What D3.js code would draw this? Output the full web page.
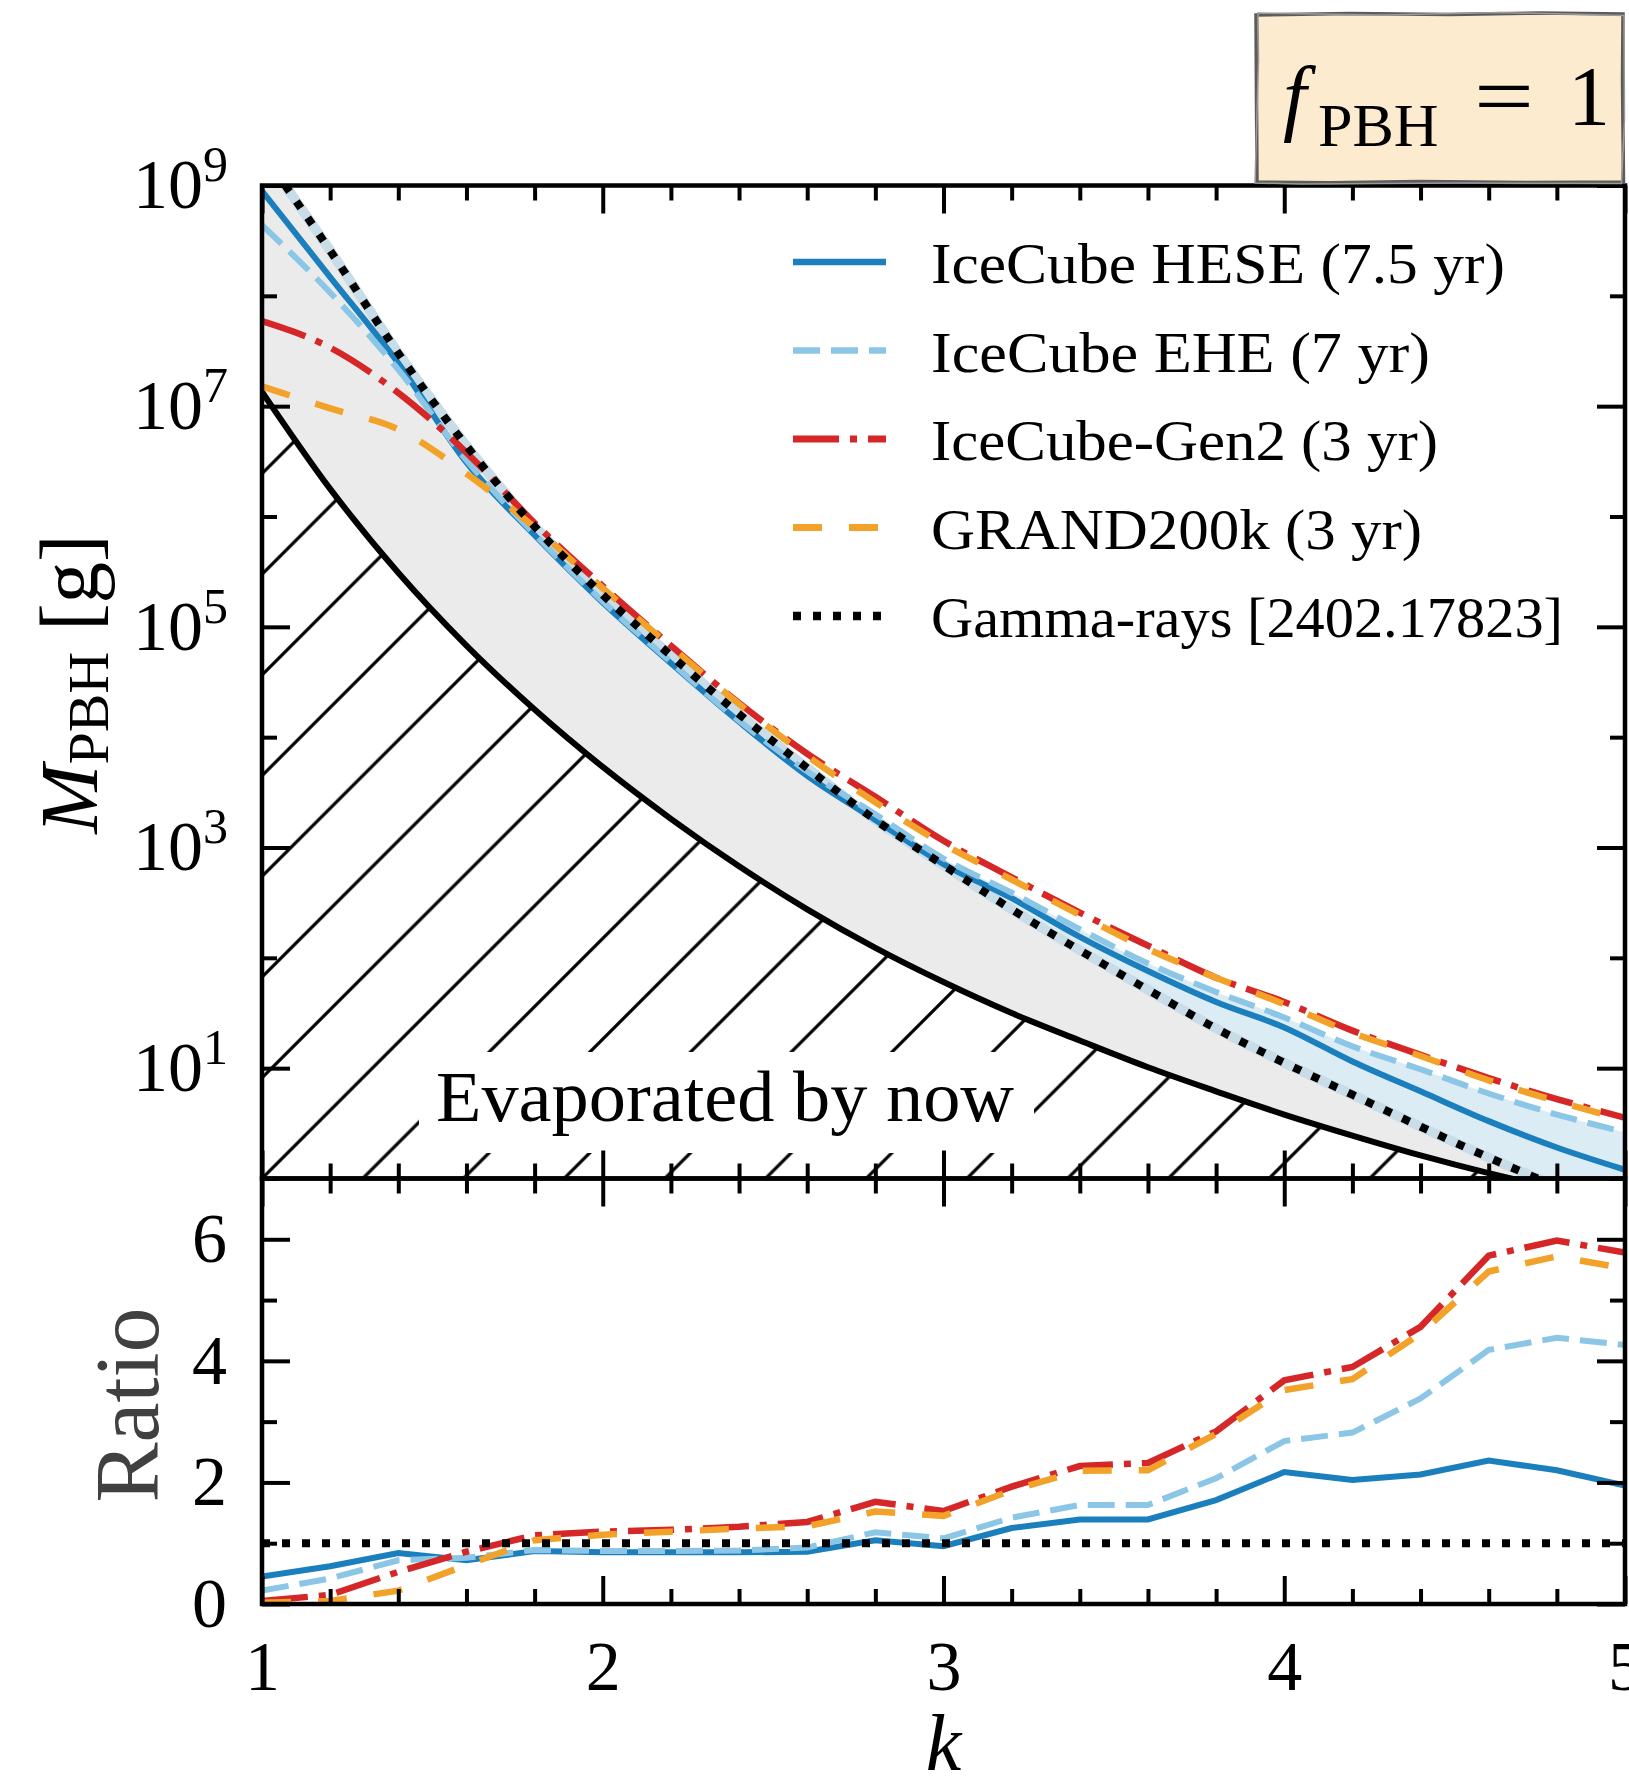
<!DOCTYPE html>
<html><head><meta charset="utf-8">
<script src="https://cdn.jsdelivr.net/npm/d3@7"></script>
<style>
html,body{margin:0;padding:0;background:#fff;}
svg{display:block;font-family:"Liberation Serif","Times New Roman",serif;}
</style></head><body>
<svg id="chart" width="1629" height="1784"></svg>
<script>
// ---------------- data ----------------
const kValues = [1.0,1.2,1.4,1.6,1.8,2.0,2.2,2.4,2.6,2.8,3.0,3.2,3.4,3.6,3.8,4.0,4.2,4.4,4.6,4.8,5.0];
const massEvaporated = [1.35e7,1.78e6,3.09e5,6.76e4,1.78e4,5.37e3,1.82e3,676,275,123,60.3,31.6,17.8,10.2,6.17,3.80,2.45,1.62,1.12,0.81,0.62];
const massGamma = [2.0e9,2.57e8,3.02e7,4.37e6,8.13e5,1.95e5,5.50e4,1.62e4,5.25e3,1.78e3,692,275,117,51.3,22.9,11.2,5.75,2.95,1.55,0.85,0.50];
const massHESE  = [8.91e8,1.48e8,2.45e7,3.09e6,6.76e5,1.66e5,4.68e4,1.38e4,4.47e3,1.78e3,708,347,155,75.9,39.8,23.4,11.5,6.17,3.31,1.91,1.20];
const massEHE   = [4.37e8,1.07e8,2.14e7,3.24e6,6.92e5,1.70e5,4.79e4,1.41e4,4.90e3,2.00e3,794,389,182,89.1,49.0,28.8,15.8,9.77,5.89,3.80,2.63];
const massGen2  = [5.89e7,3.39e7,1.32e7,3.80e6,8.71e5,2.34e5,6.76e4,2.04e4,7.08e3,2.88e3,1.15e3,537,257,129,66.1,39.8,21.9,13.2,8.13,5.25,3.55];
const massGRAND = [1.51e7,9.55e6,6.17e6,2.45e6,7.94e5,2.24e5,6.61e4,2.00e4,6.76e3,2.57e3,1.07e3,513,245,120,66.1,38.0,20.9,12.9,7.76,5.01,3.39];
const ratioHESE  = [0.45,0.62,0.84,0.72,0.87,0.85,0.85,0.85,0.86,1.05,0.95,1.25,1.39,1.39,1.71,2.17,2.04,2.13,2.36,2.20,1.95];
const ratioEHE   = [0.22,0.42,0.72,0.76,0.89,0.87,0.87,0.88,0.93,1.18,1.08,1.42,1.63,1.63,2.07,2.68,2.82,3.38,4.18,4.38,4.26];
const ratioGen2  = [0.05,0.15,0.53,0.86,1.13,1.19,1.22,1.27,1.35,1.68,1.53,1.93,2.27,2.32,2.84,3.68,3.90,4.56,5.73,5.98,5.78];
const ratioGRAND = [0.02,0.05,0.22,0.64,1.05,1.14,1.19,1.24,1.28,1.52,1.45,1.87,2.19,2.20,2.80,3.52,3.70,4.45,5.47,5.72,5.52];
const ratioGamma = [1,1,1,1,1,1,1,1,1,1,1,1,1,1,1,1,1,1,1,1,1];
const seriesNames = ["IceCube HESE (7.5 yr)","IceCube EHE (7 yr)","IceCube-Gen2 (3 yr)","GRAND200k (3 yr)","Gamma-rays [2402.17823]"];
const xMajorTicks = [1,2,3,4,5];
const xMinorTicks = [1.2,1.4,1.6,1.8,2.2,2.4,2.6,2.8,3.2,3.4,3.6,3.8,4.2,4.4,4.6,4.8];
const yMainMajorTicks = [1e1,1e3,1e5,1e7,1e9];
const yMainTickExponents = ["1","3","5","7","9"];
const yMainMinorTicks = [1e0,1e2,1e4,1e6,1e8];
const yRatioMajorTicks = [0,2,4,6];
const yRatioMinorTicks = [1,3,5];

// ---------------- layout ----------------
const L = 262, R = 1625, T = 185.5, MB = 1178.5, RB = 1604;
const FONT = '"Liberation Serif","Times New Roman",serif';
const svg = d3.select("#chart");
const x  = d3.scaleLinear().domain([1,5]).range([L,R]);
const yM = d3.scaleLog().domain([1,1e9]).range([MB,T]);
const yR = d3.scaleLinear().domain([0,7]).range([RB,MB]);

const defs = svg.append("defs");
defs.append("clipPath").attr("id","clipMain").append("rect")
  .attr("x",L).attr("y",T).attr("width",R-L).attr("height",MB-T);
defs.append("clipPath").attr("id","clipRatio").append("rect")
  .attr("x",L).attr("y",MB).attr("width",R-L).attr("height",RB-MB);

const curve = d3.curveMonotoneX;
const upperIce = kValues.map((k,i)=>Math.max(massHESE[i], massEHE[i]));
const areaBetween = (lo, hi) => d3.area()
  .x((d,i)=>x(kValues[i])).y0((d,i)=>yM(lo[i])).y1((d,i)=>yM(hi[i])).curve(curve)(kValues);

// hatch clip: below evaporation line
defs.append("clipPath").attr("id","clipHatch").append("path")
  .attr("d", d3.area().x((d,i)=>x(kValues[i])).y0(MB+60).y1((d,i)=>yM(massEvaporated[i])).curve(curve)(kValues));
const hs = 100.7;
const pat = defs.append("pattern").attr("id","hatch").attr("patternUnits","userSpaceOnUse")
  .attr("x",L).attr("y",MB).attr("width",hs).attr("height",hs);
pat.append("path")
  .attr("d",`M0,${hs} L${hs},0 M${-hs*0.1},${hs*0.1} L${hs*0.1},${-hs*0.1} M${hs*0.9},${hs*1.1} L${hs*1.1},${hs*0.9}`)
  .attr("stroke","#000").attr("stroke-width",3.2).attr("fill","none");

// ---------------- main panel ----------------
const gMain = svg.append("g").attr("clip-path","url(#clipMain)");
gMain.append("path").attr("d", areaBetween(massEvaporated, upperIce)).attr("fill","#dcecf4");
gMain.append("path").attr("d", areaBetween(massEvaporated, massGamma)).attr("fill","#ebebeb");
gMain.append("g").attr("clip-path","url(#clipHatch)")
  .append("rect").attr("x",L).attr("y",T).attr("width",R-L).attr("height",MB-T).attr("fill","url(#hatch)");
// text box
gMain.append("rect").attr("x",419).attr("y",1052).attr("width",615).attr("height",101).attr("fill","#fff");
svg.append("text").attr("x",436).attr("y",1121).attr("font-size",72).attr("textLength",578)
  .attr("lengthAdjust","spacingAndGlyphs").text("Evaporated by now");

const lineMain = arr => d3.line().x((d,i)=>x(kValues[i])).y((d,i)=>yM(arr[i])).curve(curve)(kValues);
gMain.append("path").attr("d", lineMain(massEvaporated)).attr("fill","none").attr("stroke","#000").attr("stroke-width",6);
gMain.append("path").attr("d", lineMain(massGamma)).attr("fill","none").attr("stroke","#c9dde8").attr("stroke-width",10);

const styles = [
  {color:"#1b7fbd", w:6, dash:null},
  {color:"#8cc6e6", w:6, dash:"27,11"},
  {color:"#d62728", w:6.5, dash:"46,11,7,11"},
  {color:"#f2a229", w:6.5, dash:"29,27"},
  {color:"#000000", w:8, dash:"8,12"}
];
const mainSeries = [massHESE, massEHE, massGen2, massGRAND, massGamma];
mainSeries.forEach((arr,j)=>{
  gMain.append("path").attr("d", lineMain(arr)).attr("fill","none")
    .attr("stroke",styles[j].color).attr("stroke-width",styles[j].w)
    .attr("stroke-dasharray",styles[j].dash);
});

// ---------------- ratio panel ----------------
const gRatio = svg.append("g").attr("clip-path","url(#clipRatio)");
const lineRatio = arr => d3.line().x((d,i)=>x(kValues[i])).y((d,i)=>yR(arr[i]))(kValues);
const ratioSeries = [ratioHESE, ratioEHE, ratioGen2, ratioGRAND, ratioGamma];
ratioSeries.forEach((arr,j)=>{
  gRatio.append("path").attr("d", lineRatio(arr)).attr("fill","none")
    .attr("stroke",styles[j].color).attr("stroke-width",styles[j].w)
    .attr("stroke-dasharray",styles[j].dash);
});

// ---------------- axes ----------------
function styleAxis(g){
  g.select(".domain").remove();
  g.selectAll(".tick line").attr("stroke","#000").attr("stroke-width",4);
  g.selectAll("text").attr("font-family",FONT).attr("fill","#000");
}
const MAJ = 28, MIN = 15;
const gYL = svg.append("g").attr("transform",`translate(${L},0)`)
  .call(d3.axisLeft(yM).tickValues(yMainMajorTicks).tickSize(-MAJ).tickPadding(34).tickFormat(()=>""));
styleAxis(gYL);
gYL.selectAll(".tick text").each(function(d,i){
  const t = d3.select(this).attr("font-size",70).attr("dy","0.32em");
  t.append("tspan").text("10");
  t.append("tspan").attr("font-size",50).attr("dy",-27).text(yMainTickExponents[i]);
});
styleAxis(svg.append("g").attr("transform",`translate(${L},0)`)
  .call(d3.axisLeft(yM).tickValues(yMainMinorTicks).tickSize(-MIN).tickFormat(()=>"")));
styleAxis(svg.append("g").attr("transform",`translate(${R},0)`)
  .call(d3.axisRight(yM).tickValues(yMainMajorTicks).tickSize(-MAJ).tickFormat(()=>"")));
styleAxis(svg.append("g").attr("transform",`translate(${R},0)`)
  .call(d3.axisRight(yM).tickValues(yMainMinorTicks).tickSize(-MIN).tickFormat(()=>"")));
[[d3.axisTop, T],[d3.axisBottom, MB],[d3.axisTop, MB]].forEach(([ax,yy])=>{
  styleAxis(svg.append("g").attr("transform",`translate(0,${yy})`)
    .call(ax(x).tickValues(xMajorTicks).tickSize(-MAJ).tickFormat(()=>"")));
  styleAxis(svg.append("g").attr("transform",`translate(0,${yy})`)
    .call(ax(x).tickValues(xMinorTicks).tickSize(-MIN).tickFormat(()=>"")));
});
const gXB = svg.append("g").attr("transform",`translate(0,${RB})`)
  .call(d3.axisBottom(x).tickValues(xMajorTicks).tickSize(-MAJ).tickPadding(36).tickFormat(d3.format("d")));
styleAxis(gXB); gXB.selectAll("text").attr("font-size",70);
styleAxis(svg.append("g").attr("transform",`translate(0,${RB})`)
  .call(d3.axisBottom(x).tickValues(xMinorTicks).tickSize(-MIN).tickFormat(()=>"")));
const gRL = svg.append("g").attr("transform",`translate(${L},0)`)
  .call(d3.axisLeft(yR).tickValues(yRatioMajorTicks).tickSize(-MAJ).tickPadding(35).tickFormat(d3.format("d")));
styleAxis(gRL); gRL.selectAll("text").attr("font-size",70);
styleAxis(svg.append("g").attr("transform",`translate(${L},0)`)
  .call(d3.axisLeft(yR).tickValues(yRatioMinorTicks).tickSize(-MIN).tickFormat(()=>"")));
styleAxis(svg.append("g").attr("transform",`translate(${R},0)`)
  .call(d3.axisRight(yR).tickValues(yRatioMajorTicks).tickSize(-MAJ).tickFormat(()=>"")));
styleAxis(svg.append("g").attr("transform",`translate(${R},0)`)
  .call(d3.axisRight(yR).tickValues(yRatioMinorTicks).tickSize(-MIN).tickFormat(()=>"")));

// frames
svg.append("rect").attr("x",L).attr("y",T).attr("width",R-L).attr("height",MB-T)
  .attr("fill","none").attr("stroke","#000").attr("stroke-width",4.5);
svg.append("rect").attr("x",L).attr("y",MB).attr("width",R-L).attr("height",RB-MB)
  .attr("fill","none").attr("stroke","#000").attr("stroke-width",4.5);

// ---------------- axis labels ----------------
const ml = svg.append("text").attr("transform","translate(97,684) rotate(-90)")
  .attr("text-anchor","middle").attr("font-size",83);
ml.append("tspan").attr("font-style","italic").text("M");
ml.append("tspan").attr("font-size",58).attr("dy",11).text("PBH");
ml.append("tspan").attr("dy",-11).text("\u00a0[g]");
svg.append("text").attr("transform","translate(158,1405) rotate(-90)")
  .attr("text-anchor","middle").attr("font-size",90).attr("fill","#404040").text("Ratio");
svg.append("text").attr("x",x(3)).attr("y",1770).attr("text-anchor","middle")
  .attr("font-size",80).attr("font-style","italic").text("k");

// ---------------- legend ----------------
const legBase = [283, 371.5, 460, 548.5, 637];
const legWidths = [574, 499, 507, 491, 632];
seriesNames.forEach((name,j)=>{
  const yy = legBase[j];
  svg.append("line").attr("x1",793).attr("x2",886).attr("y1",yy-21).attr("y2",yy-21)
    .attr("stroke",styles[j].color).attr("stroke-width",styles[j].w+0.5)
    .attr("stroke-dasharray",styles[j].dash);
  svg.append("text").attr("x",931).attr("y",yy).attr("font-size",58)
    .attr("textLength",legWidths[j]).attr("lengthAdjust","spacingAndGlyphs").text(name);
});

// ---------------- f_PBH box ----------------
svg.append("rect").attr("x",1257).attr("y",14).attr("width",366).attr("height",168).attr("fill","#fdebd0");
svg.append("path").attr("d","M1256,15 L1350,13.5 L1450,14.5 L1540,13 L1623,14 L1622.5,80 L1623.5,182 L1530,182.5 L1420,181.5 L1330,182.8 L1257,182 L1256.5,100 Z")
  .attr("fill","none").attr("stroke","#5c5c5c").attr("stroke-width",3.5);
svg.append("path").attr("d","M1258,13 L1380,15 L1500,12.5 L1624,15.5 L1624.5,120 L1621.5,183.5 L1460,183 L1300,184 L1255,183 L1258.5,60 Z")
  .attr("fill","none").attr("stroke","#9a9a9a").attr("stroke-width",1.5);
const ft = svg.append("text").attr("y",125).attr("font-size",84);
ft.append("tspan").attr("x",1283).attr("font-style","italic").text("f");
ft.append("tspan").attr("x",1318).attr("font-size",62).attr("dy",21).text("PBH");
ft.append("tspan").attr("x",1474).attr("dy",-21).attr("textLength",60).attr("lengthAdjust","spacingAndGlyphs").text("=");
ft.append("tspan").attr("x",1568).text("1");
</script>
</body></html>
